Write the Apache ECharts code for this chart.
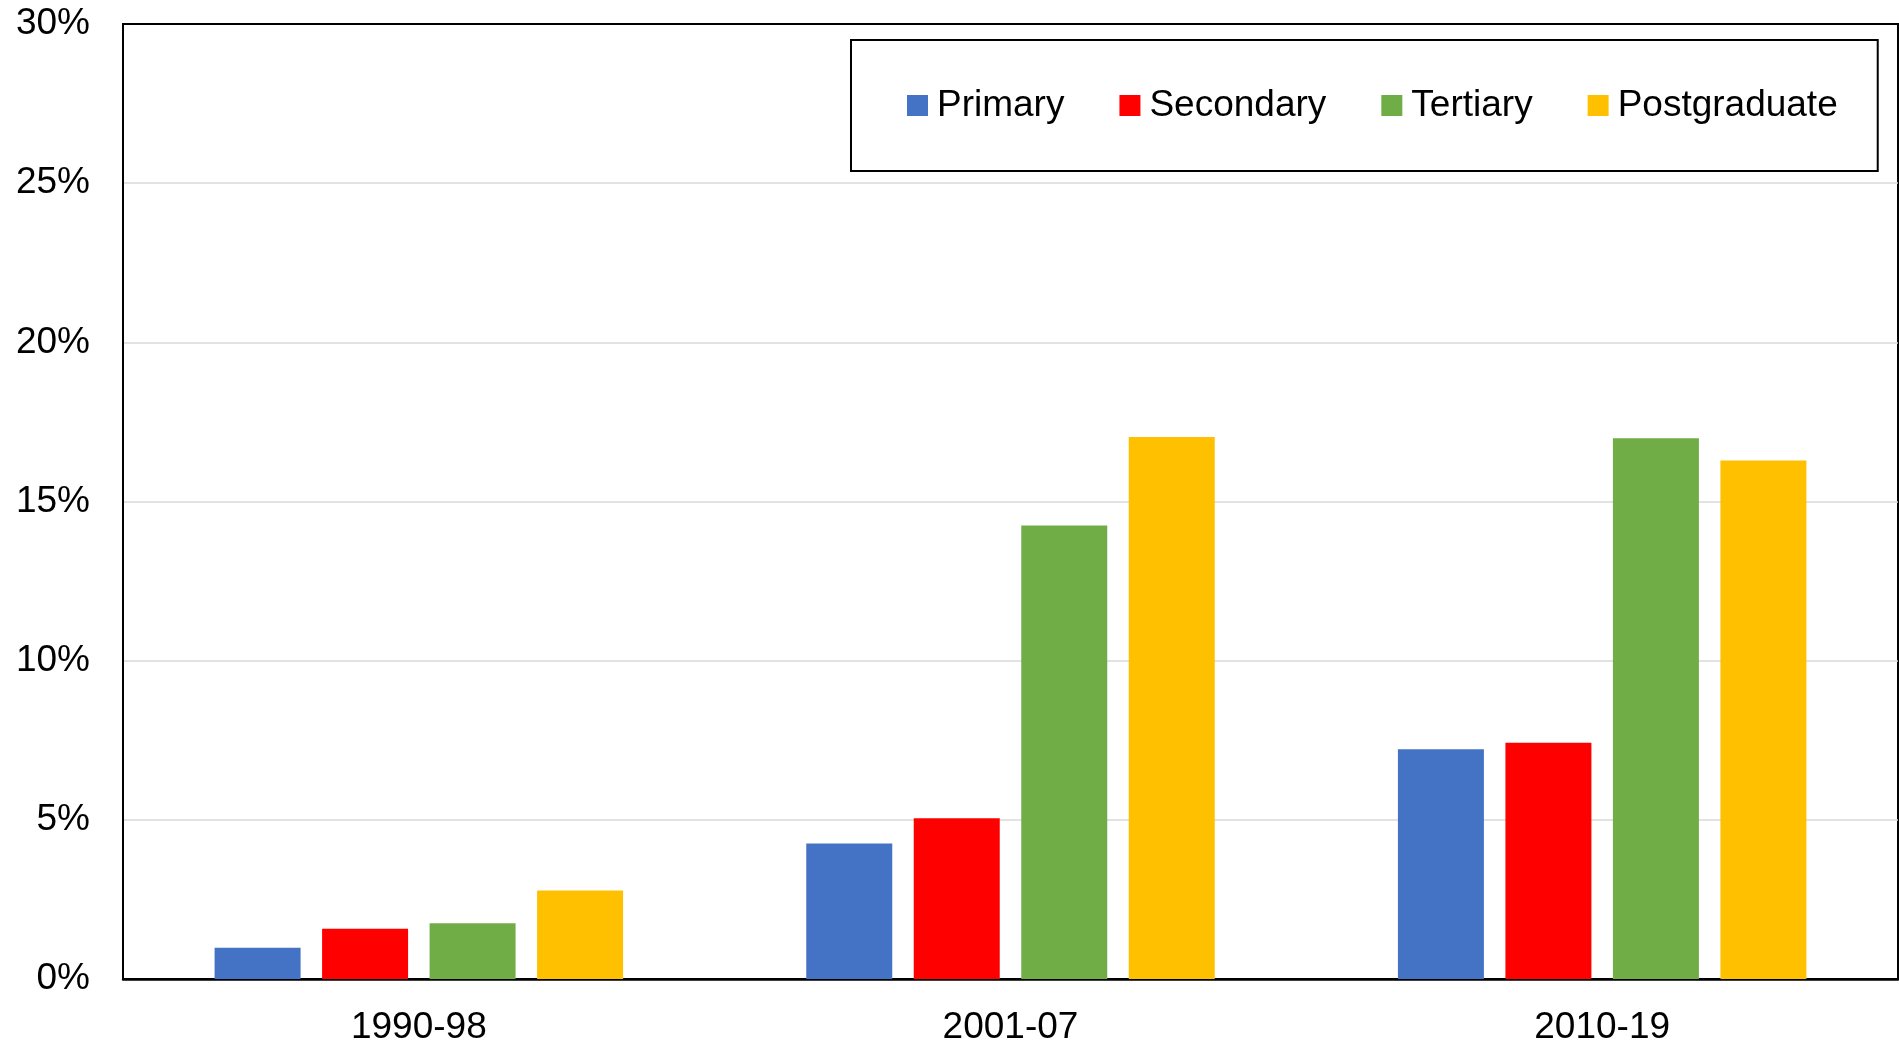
<!DOCTYPE html>
<html>
<head>
<meta charset="utf-8">
<script src="https://cdn.jsdelivr.net/npm/echarts@6/dist/echarts.min.js"></script>
<style>
html,body{margin:0;padding:0;background:#fff;}
#chart{width:1899px;height:1041px;}
</style>
</head>
<body>
<div id="chart"></div>
<script>
const categories = ['1990-98', '2001-07', '2010-19'];
const seriesNames = ['Primary', 'Secondary', 'Tertiary', 'Postgraduate'];
const primary = [0.98, 4.26, 7.22];
const secondary = [1.58, 5.05, 7.42];
const tertiary = [1.75, 14.25, 16.99];
const postgraduate = [2.78, 17.03, 16.29];
const yTicks = [0, 5, 10, 15, 20, 25, 30];
const colors = ['#4472C4', '#FF0000', '#70AD47', '#FFC000'];

const font = '"Liberation Sans", Arial, sans-serif';
const chart = echarts.init(document.getElementById('chart'), null, {renderer: 'canvas'});
const values = [primary, secondary, tertiary, postgraduate];

chart.setOption({
  animation: false,
  backgroundColor: '#ffffff',
  color: colors,
  textStyle: {fontFamily: font},
  grid: {
    left: 123, right: 1, top: 24, bottom: 62,
    containLabel: false,
    outerBoundsMode: 'none',
    show: true, borderColor: '#000', borderWidth: 2, backgroundColor: 'transparent'
  },
  legend: {
    data: seriesNames,
    left: 851, top: 40,
    orient: 'horizontal',
    icon: 'rect',
    itemWidth: 21, itemHeight: 21,
    itemGap: 55,
    padding: [47, 40, 47, 56],
    borderColor: '#000', borderWidth: 2,
    backgroundColor: '#fff',
    textStyle: {fontSize: 37, color: '#000', fontFamily: font, padding: [0, 0, 0, 4]}
  },
  xAxis: {
    type: 'category',
    data: categories,
    axisLine: {show: true, lineStyle: {color: '#000', width: 2.5}},
    axisTick: {show: false},
    axisLabel: {fontSize: 37, color: '#000', fontFamily: font, margin: 30},
    splitLine: {show: false}
  },
  yAxis: {
    type: 'value',
    min: yTicks[0], max: yTicks[yTicks.length - 1], interval: 5,
    axisLine: {show: true, lineStyle: {color: '#000', width: 2}},
    axisTick: {show: false},
    axisLabel: {fontSize: 37, color: '#000', fontFamily: font, margin: 33, formatter: '{value}%'},
    splitLine: {show: true, showMinLine: false, showMaxLine: false, lineStyle: {color: '#d9d9d9', width: 1.5}}
  },
  series: seriesNames.map((name, i) => ({
    name: name,
    type: 'bar',
    data: values[i],
    barWidth: 86,
    barGap: '25%',
    itemStyle: {color: colors[i]}
  }))
});
</script>
</body>
</html>
